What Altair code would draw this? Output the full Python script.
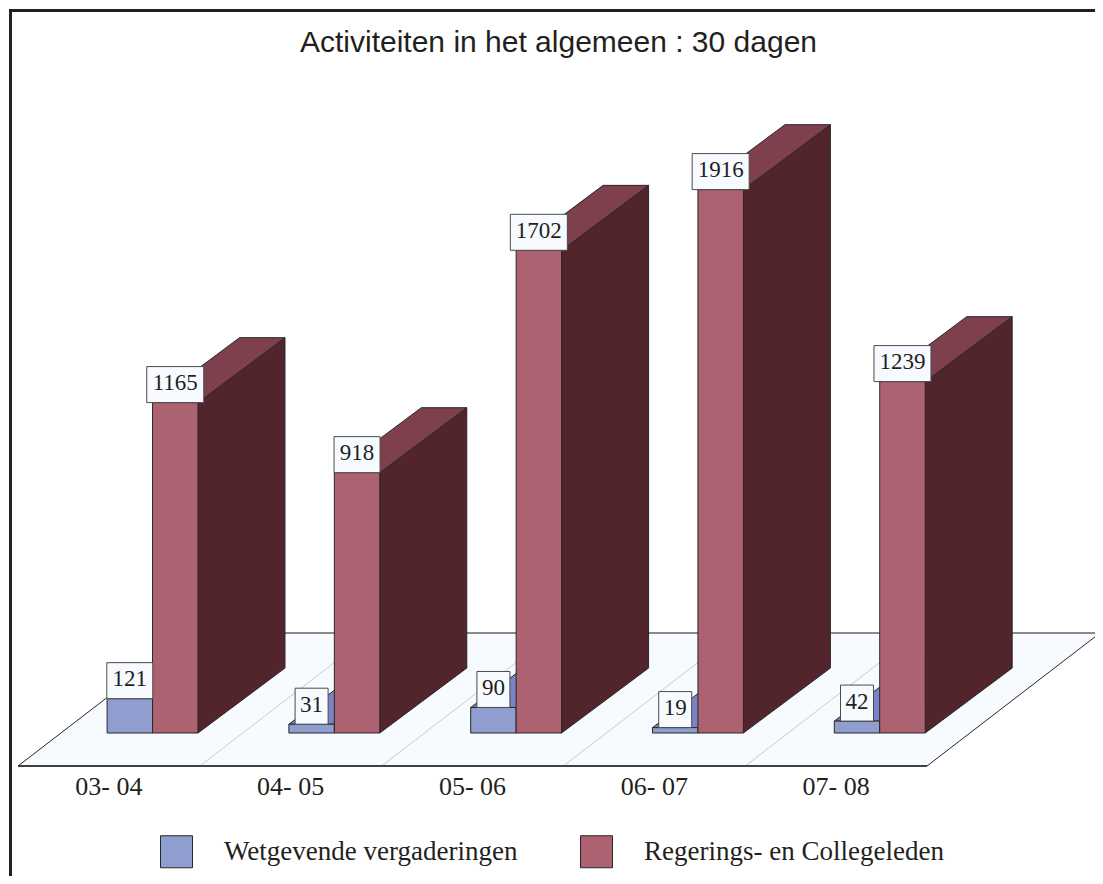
import altair as alt
import pandas as pd

categories = ["03- 04", "04- 05", "05- 06", "06- 07", "07- 08"]
wetgevend = [121, 31, 90, 19, 42]
regering = [1165, 918, 1702, 1916, 1239]
series_names = ["Wetgevende vergaderingen", "Regerings- en Collegeleden"]

W, H = 1087, 868
U = 181.8        # px per category
K = 0.2836       # px per value unit
X_DOMAIN = [-10 / U, (W - 10) / U]
Y_DOMAIN = [(725 - H) / K, 725 / K]
DX, DY = 87 / U, 229       # depth projection of a bar
FLOOR_FRONT, FLOOR_BACK = -116.4, 352.6
FLOOR_DX = 173 / U
EDGE = "#2b2627"

xs = alt.Scale(domain=X_DOMAIN, range=[0, W], nice=False, zero=False)
ys = alt.Scale(domain=Y_DOMAIN, range=[H, 0], nice=False, zero=False)


def X(f):
    return alt.X(f, type="quantitative", scale=xs, axis=None, title=None, stack=None)


def Y(f):
    return alt.Y(f, type="quantitative", scale=ys, axis=None, title=None, stack=None)


X2 = lambda f: alt.X2(f)
Y2 = lambda f: alt.Y2(f)

bars = []
for i, c in enumerate(categories):
    bars.append(dict(cat=c, s=series_names[0], v=wetgevend[i], a=i + .49, b=i + .74))
    bars.append(dict(cat=c, s=series_names[1], v=regering[i], a=i + .74, b=i + .99))
bars = pd.DataFrame(bars)

# side faces: two vertical edges, front and back
side = []
top = []
for r in bars.to_dict("records"):
    side.append(dict(s=r["s"], cat=r["cat"], x=r["b"], y=0, y2=r["v"]))
    side.append(dict(s=r["s"], cat=r["cat"], x=r["b"] + DX, y=DY, y2=r["v"] + DY))
    top.append(dict(s=r["s"], cat=r["cat"], y=r["v"], x=r["a"], x2=r["b"]))
    top.append(dict(s=r["s"], cat=r["cat"], y=r["v"] + DY, x=r["a"] + DX, x2=r["b"] + DX))
side = pd.DataFrame(side)
top = pd.DataFrame(top)

floor = pd.DataFrame([
    dict(y=FLOOR_FRONT, x=0, x2=5),
    dict(y=FLOOR_BACK, x=FLOOR_DX, x2=5 + FLOOR_DX),
])
grid = pd.DataFrame([
    dict(x=i, x2=i + FLOOR_DX, y=FLOOR_FRONT, y2=FLOOR_BACK) for i in range(1, 5)
])
back = pd.DataFrame([dict(x=FLOOR_DX, x2=5 + FLOOR_DX, y=FLOOR_BACK)])
front = pd.DataFrame([dict(x=0, x2=5, y=FLOOR_FRONT)])

floor_l = alt.Chart(floor).mark_area(orient="horizontal", color="#f7fbff", stroke=EDGE, strokeWidth=1).encode(
    y=Y("y"), x=X("x"), x2=X2("x2"))
grid_l = alt.Chart(grid).mark_rule(color="#c9cccf", strokeWidth=1).encode(
    x=X("x"), x2=X2("x2"), y=Y("y"), y2=Y2("y2"))
back_l = alt.Chart(back).mark_rule(color="#85888a", strokeWidth=1.5).encode(
    x=X("x"), x2=X2("x2"), y=Y("y"))
front_l = alt.Chart(front).mark_rule(color=EDGE, strokeWidth=1.5).encode(
    x=X("x"), x2=X2("x2"), y=Y("y"))


def side_layer(s, color):
    return alt.Chart(side[side.s == s]).mark_area(color=color, stroke=EDGE, strokeWidth=1).encode(
        x=X("x"), y=Y("y"), y2=Y2("y2"), detail="cat:N")


def top_layer(s, color):
    return alt.Chart(top[top.s == s]).mark_area(orient="horizontal", color=color, stroke=EDGE, strokeWidth=1).encode(
        y=Y("y"), x=X("x"), x2=X2("x2"), detail="cat:N")


color = alt.Color("s:N", scale=alt.Scale(domain=series_names, range=["#8f9ecf", "#ad6271"]),
                  legend=alt.Legend(
                      title=None, orient="none", legendX=152, legendY=827, direction="horizontal", columns=2,
                      symbolType="square", symbolSize=1024, symbolStrokeColor=EDGE, symbolStrokeWidth=1,
                      labelFont="Liberation Serif", labelFontSize=27, labelColor="#231f20", labelOffset=31,
                      columnPadding=60, labelLimit=400, symbolOpacity=1, padding=0))

front_l_bars = alt.Chart(bars).mark_rect(stroke=EDGE, strokeWidth=1, opacity=1).encode(
    x=X("a"), x2=X2("b"), y=alt.Y("zero:Q", scale=ys, axis=None, title=None), y2=Y2("v"), color=color
).transform_calculate(zero="0")

# value labels
lab = bars.copy()
lab["w"] = lab.v.map(lambda v: {4: 57, 3: 46, 2: 33}[len(str(v))] / U)
lab["c"] = (lab.a + lab.b) / 2
lab["l"] = lab.c - lab.w / 2
lab["r"] = lab.c + lab.w / 2
lab["t"] = lab.v + 127
lab["m"] = lab.v + 68
lab["txt"] = lab.v.astype(str)
box = alt.Chart(lab).mark_rect(fill="#f7fbff", stroke="#4a4a4a", strokeWidth=1).encode(
    x=X("l"), x2=X2("r"), y=Y("v"), y2=Y2("t"))
box_t = alt.Chart(lab).mark_text(font="Liberation Serif", fontSize=23, color="#231f20", baseline="middle", align="center").encode(
    x=X("c"), y=Y("m"), text="txt:N")

cat_df = pd.DataFrame(dict(cat=categories, x=[i + .5 for i in range(5)], y=[-218] * 5))
cat_l = alt.Chart(cat_df).mark_text(font="Liberation Serif", fontSize=26, color="#231f20", baseline="alphabetic", align="center").encode(
    x=X("x"), y=Y("y"), text="cat:N")

frame_top = alt.Chart(pd.DataFrame({"a": [0]})).mark_rule(color="#231f20", strokeWidth=3).encode(
    x=alt.value(1), x2=alt.value(W), y=alt.value(2.5))
frame_left = alt.Chart(pd.DataFrame({"a": [0]})).mark_rule(color="#231f20", strokeWidth=3).encode(
    x=alt.value(2.5), y=alt.value(1), y2=alt.value(H))

chart = alt.layer(
    frame_top, frame_left, floor_l, grid_l, back_l, front_l,
    top_layer(series_names[0], "#7a84c4"), side_layer(series_names[0], "#52242b"),
    side_layer(series_names[1], "#52242b"), top_layer(series_names[1], "#7e404c"),
    front_l_bars, box, box_t, cat_l,
).properties(
    width=W, height=H,
    title=alt.TitleParams("Activiteiten in het algemeen : 30 dagen", font="Liberation Sans", fontSize=30,
                          fontWeight="normal", color="#231f20", anchor="middle", offset=-80, dx=7, baseline="bottom"),
    padding=0, autosize=alt.AutoSizeParams(type="none"), background="white",
).configure_view(stroke=None)

chart.save("out.html", embed_options={"renderer": "svg", "actions": False})
